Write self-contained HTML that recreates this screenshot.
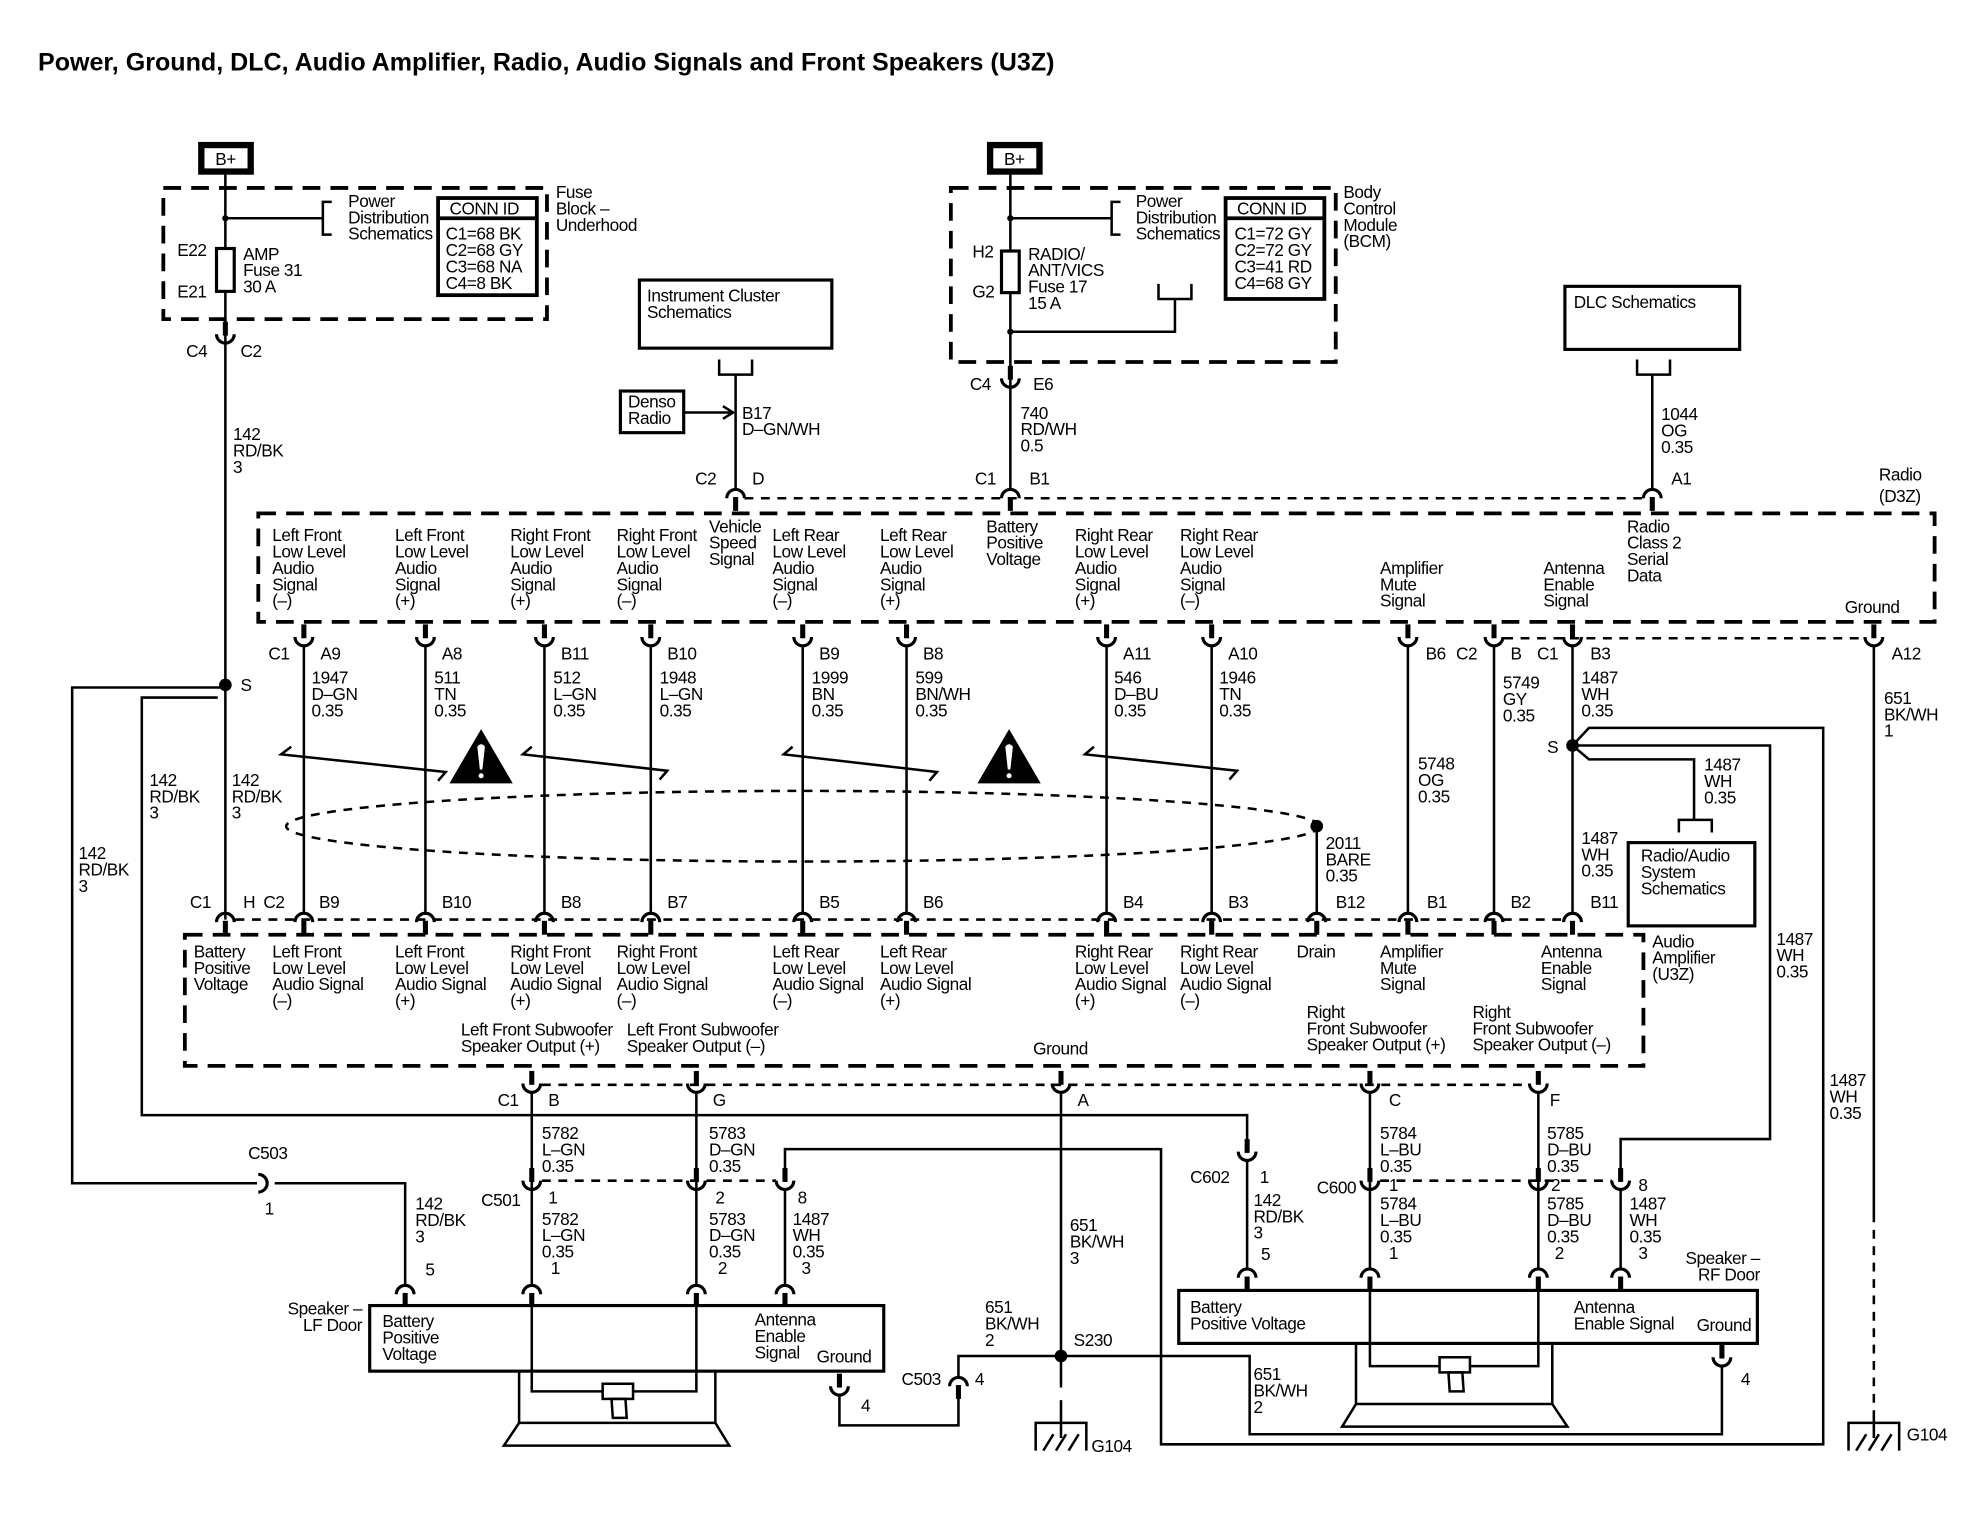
<!DOCTYPE html>
<html><head><meta charset="utf-8"><style>
html,body{margin:0;padding:0;background:#fff;}
svg{display:block;}
text{font-family:"Liberation Sans",Arial,sans-serif;font-size:13.6px;fill:#000;letter-spacing:-0.35px;}
.w{stroke:#000;stroke-width:2;fill:none;}
.d{stroke:#000;stroke-width:3;fill:none;stroke-dasharray:14,8;}
.s{stroke:#000;stroke-width:2;fill:none;stroke-dasharray:7,6;}
</style></head><body>
<svg width="1984" height="1520" viewBox="0 0 1567 1205" preserveAspectRatio="none" xmlns="http://www.w3.org/2000/svg">
<defs>
<g id="cu"><rect x="-2" y="-17" width="4" height="11" fill="#000"/><path d="M-7,-7 A7,7 0 0 0 7,-7" stroke="#000" stroke-width="2.5" fill="none"/></g>
<g id="cap"><path d="M-7,7 A7,7 0 0 1 7,7" stroke="#000" stroke-width="2.5" fill="none"/><rect x="-2" y="6" width="4" height="11" fill="#000"/></g>
</defs>
<rect width="1567" height="1205" fill="#fff"/>
<text x="30" y="56" style="font-size:19.8px;font-weight:bold;letter-spacing:0">Power, Ground, DLC, Audio Amplifier, Radio, Audio Signals and Front Speakers (U3Z)</text>

<!-- Left fuse block -->
<rect x="159" y="115" width="39" height="21" fill="none" stroke="#000" stroke-width="5"/>
<text x="170" y="131">B+</text>
<rect x="129" y="149" width="303" height="104" class="d"/>
<path class="w" d="M178,138 V729 M178,173 H255 M262,160 H255 V186 H262"/>
<circle cx="178" cy="173" r="2.5"/>
<text x="275" y="164">Power</text><text x="275" y="177">Distribution</text><text x="275" y="190">Schematics</text>
<rect x="346" y="157" width="78" height="77" fill="none" stroke="#000" stroke-width="3"/>
<line x1="346" y1="173" x2="424" y2="173" stroke="#000" stroke-width="3"/>
<text x="355" y="170">CONN ID</text>
<text x="352" y="190">C1=68 BK</text><text x="352" y="203">C2=68 GY</text><text x="352" y="216">C3=68 NA</text><text x="352" y="229">C4=8 BK</text>
<rect x="171" y="197" width="14" height="34" fill="#fff" stroke="#000" stroke-width="2.5"/>
<text x="140" y="203">E22</text><text x="140" y="236">E21</text>
<text x="192" y="206">AMP</text><text x="192" y="219">Fuse 31</text><text x="192" y="232">30 A</text>
<text x="439" y="157">Fuse</text><text x="439" y="170">Block –</text><text x="439" y="183">Underhood</text>
<use href="#cu" x="178" y="272"/>
<text x="147" y="283">C4</text><text x="190" y="283">C2</text>
<text x="184" y="349">142</text><text x="184" y="362">RD/BK</text><text x="184" y="375">3</text>

<!-- Instrument cluster / Denso -->
<rect x="505" y="222" width="152" height="54" fill="none" stroke="#000" stroke-width="2.5"/>
<text x="511" y="239">Instrument Cluster</text><text x="511" y="252">Schematics</text>
<path class="w" d="M568,285 V297 H594 V285 M581,297 V388"/>
<rect x="490" y="310" width="50" height="33" fill="none" stroke="#000" stroke-width="2.5"/>
<text x="496" y="323">Denso</text><text x="496" y="336">Radio</text>
<path class="w" d="M540,327 H578 M571,322 L579,327 L571,332"/>
<text x="586" y="332">B17</text><text x="586" y="345">D–GN/WH</text>
<text x="549" y="384">C2</text><text x="594" y="384">D</text>
<use href="#cap" x="581" y="388"/>

<!-- BCM -->
<rect x="782" y="115" width="39" height="21" fill="none" stroke="#000" stroke-width="5"/>
<text x="793" y="131">B+</text>
<rect x="751" y="149" width="304" height="138" class="d"/>
<path class="w" d="M798,138 V388 M798,173 H878 M885,160 H878 V186 H885 M798,263 H928 V237 M915,225 V237 H941 V225"/>
<circle cx="798" cy="173" r="2.5"/><circle cx="798" cy="263" r="2.5"/>
<text x="897" y="164">Power</text><text x="897" y="177">Distribution</text><text x="897" y="190">Schematics</text>
<rect x="968" y="157" width="78" height="80" fill="none" stroke="#000" stroke-width="3"/>
<line x1="968" y1="173" x2="1046" y2="173" stroke="#000" stroke-width="3"/>
<text x="977" y="170">CONN ID</text>
<text x="975" y="190">C1=72 GY</text><text x="975" y="203">C2=72 GY</text><text x="975" y="216">C3=41 RD</text><text x="975" y="229">C4=68 GY</text>
<rect x="791" y="199" width="14" height="33" fill="#fff" stroke="#000" stroke-width="2.5"/>
<text x="768" y="204">H2</text><text x="768" y="236">G2</text>
<text x="812" y="206">RADIO/</text><text x="812" y="219">ANT/VICS</text><text x="812" y="232">Fuse 17</text><text x="812" y="245">15 A</text>
<text x="1061" y="157">Body</text><text x="1061" y="170">Control</text><text x="1061" y="183">Module</text><text x="1061" y="196">(BCM)</text>
<use href="#cu" x="798" y="307"/>
<text x="766" y="309">C4</text><text x="816" y="309">E6</text>
<text x="806" y="332">740</text><text x="806" y="345">RD/WH</text><text x="806" y="358">0.5</text>
<text x="770" y="384">C1</text><text x="813" y="384">B1</text>
<use href="#cap" x="798" y="388"/>

<!-- DLC -->
<rect x="1236" y="227" width="138" height="50" fill="none" stroke="#000" stroke-width="2.5"/>
<text x="1243" y="244">DLC Schematics</text>
<path class="w" d="M1293,285 V297 H1319 V285 M1305,297 V388"/>
<text x="1312" y="333">1044</text><text x="1312" y="346">OG</text><text x="1312" y="359">0.35</text>
<text x="1320" y="384">A1</text>
<use href="#cap" x="1305" y="388"/>
<line x1="588" y1="395" x2="1298" y2="395" class="s"/>

<!-- Radio box -->
<rect x="204" y="407" width="1324" height="86" class="d"/>
<text x="1484" y="381">Radio</text><text x="1484" y="398">(D3Z)</text>
<g>
<text x="215" y="429">Left Front</text><text x="215" y="442">Low Level</text><text x="215" y="455">Audio</text><text x="215" y="468">Signal</text><text x="215" y="481">(–)</text>
<text x="312" y="429">Left Front</text><text x="312" y="442">Low Level</text><text x="312" y="455">Audio</text><text x="312" y="468">Signal</text><text x="312" y="481">(+)</text>
<text x="403" y="429">Right Front</text><text x="403" y="442">Low Level</text><text x="403" y="455">Audio</text><text x="403" y="468">Signal</text><text x="403" y="481">(+)</text>
<text x="487" y="429">Right Front</text><text x="487" y="442">Low Level</text><text x="487" y="455">Audio</text><text x="487" y="468">Signal</text><text x="487" y="481">(–)</text>
<text x="560" y="422">Vehicle</text><text x="560" y="435">Speed</text><text x="560" y="448">Signal</text>
<text x="610" y="429">Left Rear</text><text x="610" y="442">Low Level</text><text x="610" y="455">Audio</text><text x="610" y="468">Signal</text><text x="610" y="481">(–)</text>
<text x="695" y="429">Left Rear</text><text x="695" y="442">Low Level</text><text x="695" y="455">Audio</text><text x="695" y="468">Signal</text><text x="695" y="481">(+)</text>
<text x="779" y="422">Battery</text><text x="779" y="435">Positive</text><text x="779" y="448">Voltage</text>
<text x="849" y="429">Right Rear</text><text x="849" y="442">Low Level</text><text x="849" y="455">Audio</text><text x="849" y="468">Signal</text><text x="849" y="481">(+)</text>
<text x="932" y="429">Right Rear</text><text x="932" y="442">Low Level</text><text x="932" y="455">Audio</text><text x="932" y="468">Signal</text><text x="932" y="481">(–)</text>
<text x="1090" y="455">Amplifier</text><text x="1090" y="468">Mute</text><text x="1090" y="481">Signal</text>
<text x="1219" y="455">Antenna</text><text x="1219" y="468">Enable</text><text x="1219" y="481">Signal</text>
<text x="1285" y="422">Radio</text><text x="1285" y="435">Class 2</text><text x="1285" y="448">Serial</text><text x="1285" y="461">Data</text>
<text x="1457" y="486">Ground</text>
</g>

<!-- radio bottom connectors & wires -->
<g>
<use href="#cu" x="240" y="512"/><use href="#cu" x="336" y="512"/><use href="#cu" x="430" y="512"/><use href="#cu" x="514" y="512"/>
<use href="#cu" x="634" y="512"/><use href="#cu" x="716" y="512"/><use href="#cu" x="874" y="512"/><use href="#cu" x="957" y="512"/>
<use href="#cu" x="1112" y="512"/><use href="#cu" x="1180" y="512"/><use href="#cu" x="1242" y="512"/><use href="#cu" x="1480" y="512"/>
</g>
<line x1="1188" y1="506" x2="1473" y2="506" class="s"/>
<path class="w" d="M240,512 V724 M336,512 V724 M430,512 V724 M514,512 V724 M634,512 V724 M716,512 V724 M874,512 V724 M957,512 V724 M1112,512 V724 M1180,512 V724 M1242,512 V724 M1040,655 V724 M1480,512 V962"/>
<path class="s" d="M1480,962 V1118"/>
<g>
<text x="212" y="523">C1</text><text x="253" y="523">A9</text><text x="349" y="523">A8</text><text x="443" y="523">B11</text><text x="527" y="523">B10</text>
<text x="647" y="523">B9</text><text x="729" y="523">B8</text><text x="887" y="523">A11</text><text x="970" y="523">A10</text>
<text x="1126" y="523">B6</text><text x="1150" y="523">C2</text><text x="1193" y="523">B</text><text x="1214" y="523">C1</text><text x="1256" y="523">B3</text><text x="1494" y="523">A12</text>
<text x="246" y="542">1947</text><text x="246" y="555">D–GN</text><text x="246" y="568">0.35</text>
<text x="343" y="542">511</text><text x="343" y="555">TN</text><text x="343" y="568">0.35</text>
<text x="437" y="542">512</text><text x="437" y="555">L–GN</text><text x="437" y="568">0.35</text>
<text x="521" y="542">1948</text><text x="521" y="555">L–GN</text><text x="521" y="568">0.35</text>
<text x="641" y="542">1999</text><text x="641" y="555">BN</text><text x="641" y="568">0.35</text>
<text x="723" y="542">599</text><text x="723" y="555">BN/WH</text><text x="723" y="568">0.35</text>
<text x="880" y="542">546</text><text x="880" y="555">D–BU</text><text x="880" y="568">0.35</text>
<text x="963" y="542">1946</text><text x="963" y="555">TN</text><text x="963" y="568">0.35</text>
<text x="1120" y="610">5748</text><text x="1120" y="623">OG</text><text x="1120" y="636">0.35</text>
<text x="1187" y="546">5749</text><text x="1187" y="559">GY</text><text x="1187" y="572">0.35</text>
<text x="1249" y="542">1487</text><text x="1249" y="555">WH</text><text x="1249" y="568">0.35</text>
<text x="1488" y="558">651</text><text x="1488" y="571">BK/WH</text><text x="1488" y="584">1</text>
<text x="1047" y="673">2011</text><text x="1047" y="686">BARE</text><text x="1047" y="699">0.35</text>
<text x="1249" y="669">1487</text><text x="1249" y="682">WH</text><text x="1249" y="695">0.35</text>
</g>

<!-- shield & warnings -->
<ellipse cx="634" cy="655" rx="408" ry="28" class="s"/>
<circle cx="1040" cy="655" r="5"/>
<path class="w" d="M230,592 L222,598 L352,612 L346,619 M420,592 L413,598 L527,611 L521,618 M626,592 L619,598 L740,612 L734,619 M864,592 L857,598 L977,611 L971,618"/>
<polygon points="380,578 355,621 405,621" fill="#000"/>
<path d="M377,592 Q380,588 383,592 L381,610 L379,610 Z" fill="#fff"/><circle cx="380" cy="615" r="2" fill="#fff"/>
<polygon points="797,578 772,621 822,621" fill="#000"/>
<path d="M794,592 Q797,588 800,592 L798,610 L796,610 Z" fill="#fff"/><circle cx="797" cy="615" r="2" fill="#fff"/>

<!-- splices left -->
<circle cx="178" cy="543" r="5"/>
<text x="190" y="548">S</text>
<path class="w" d="M178,545 H57 V938 H203 M172,553 H112 V884 H985 V912"/>
<path d="M204,931 A7,7 0 0 1 204,945" stroke="#000" stroke-width="2.5" fill="none"/>
<path class="w" d="M217,938 H320 V1019"/>
<text x="118" y="623">142</text><text x="118" y="636">RD/BK</text><text x="118" y="649">3</text>
<text x="183" y="623">142</text><text x="183" y="636">RD/BK</text><text x="183" y="649">3</text>
<text x="62" y="681">142</text><text x="62" y="694">RD/BK</text><text x="62" y="707">3</text>
<text x="196" y="919">C503</text><text x="209" y="963">1</text>
<text x="328" y="959">142</text><text x="328" y="972">RD/BK</text><text x="328" y="985">3</text><text x="336" y="1011">5</text>

<!-- right splice -->
<circle cx="1242" cy="591" r="5"/>
<text x="1222" y="597">S</text>
<path class="w" d="M1242,591 L1255,577 H1440 V1145 H917 V911 H620 V928 M1242,591 H1398 V903 H1280 V928 M1242,591 L1255,602 H1338 V650 M1326,660 V650 H1352 V660"/>
<text x="1346" y="611">1487</text><text x="1346" y="624">WH</text><text x="1346" y="637">0.35</text>
<rect x="1286" y="668" width="100" height="66" fill="none" stroke="#000" stroke-width="2.5"/>
<text x="1296" y="683">Radio/Audio</text><text x="1296" y="696">System</text><text x="1296" y="709">Schematics</text>
<text x="1403" y="749">1487</text><text x="1403" y="762">WH</text><text x="1403" y="775">0.35</text>
<text x="1445" y="861">1487</text><text x="1445" y="874">WH</text><text x="1445" y="887">0.35</text>

<!-- Amplifier -->
<line x1="186" y1="729" x2="1235" y2="729" class="s"/>
<g>
<use href="#cap" x="178" y="724"/><use href="#cap" x="240" y="724"/><use href="#cap" x="336" y="724"/><use href="#cap" x="430" y="724"/><use href="#cap" x="514" y="724"/>
<use href="#cap" x="634" y="724"/><use href="#cap" x="716" y="724"/><use href="#cap" x="874" y="724"/><use href="#cap" x="957" y="724"/><use href="#cap" x="1040" y="724"/>
<use href="#cap" x="1112" y="724"/><use href="#cap" x="1180" y="724"/><use href="#cap" x="1242" y="724"/>
</g>
<g>
<text x="150" y="720">C1</text><text x="192" y="720">H</text><text x="208" y="720">C2</text><text x="252" y="720">B9</text><text x="349" y="720">B10</text>
<text x="443" y="720">B8</text><text x="527" y="720">B7</text><text x="647" y="720">B5</text><text x="729" y="720">B6</text><text x="887" y="720">B4</text>
<text x="970" y="720">B3</text><text x="1055" y="720">B12</text><text x="1127" y="720">B1</text><text x="1193" y="720">B2</text><text x="1256" y="720">B11</text>
</g>
<rect x="146" y="741" width="1152" height="104" class="d"/>
<text x="1305" y="751">Audio</text><text x="1305" y="764">Amplifier</text><text x="1305" y="777">(U3Z)</text>
<g>
<text x="153" y="759">Battery</text><text x="153" y="772">Positive</text><text x="153" y="785">Voltage</text>
<text x="215" y="759">Left Front</text><text x="215" y="772">Low Level</text><text x="215" y="785">Audio Signal</text><text x="215" y="798">(–)</text>
<text x="312" y="759">Left Front</text><text x="312" y="772">Low Level</text><text x="312" y="785">Audio Signal</text><text x="312" y="798">(+)</text>
<text x="403" y="759">Right Front</text><text x="403" y="772">Low Level</text><text x="403" y="785">Audio Signal</text><text x="403" y="798">(+)</text>
<text x="487" y="759">Right Front</text><text x="487" y="772">Low Level</text><text x="487" y="785">Audio Signal</text><text x="487" y="798">(–)</text>
<text x="610" y="759">Left Rear</text><text x="610" y="772">Low Level</text><text x="610" y="785">Audio Signal</text><text x="610" y="798">(–)</text>
<text x="695" y="759">Left Rear</text><text x="695" y="772">Low Level</text><text x="695" y="785">Audio Signal</text><text x="695" y="798">(+)</text>
<text x="849" y="759">Right Rear</text><text x="849" y="772">Low Level</text><text x="849" y="785">Audio Signal</text><text x="849" y="798">(+)</text>
<text x="932" y="759">Right Rear</text><text x="932" y="772">Low Level</text><text x="932" y="785">Audio Signal</text><text x="932" y="798">(–)</text>
<text x="1024" y="759">Drain</text>
<text x="1090" y="759">Amplifier</text><text x="1090" y="772">Mute</text><text x="1090" y="785">Signal</text>
<text x="1217" y="759">Antenna</text><text x="1217" y="772">Enable</text><text x="1217" y="785">Signal</text>
<text x="364" y="821">Left Front Subwoofer</text><text x="364" y="834">Speaker Output (+)</text>
<text x="495" y="821">Left Front Subwoofer</text><text x="495" y="834">Speaker Output (–)</text>
<text x="816" y="836">Ground</text>
<text x="1032" y="807">Right</text><text x="1032" y="820">Front Subwoofer</text><text x="1032" y="833">Speaker Output (+)</text>
<text x="1163" y="807">Right</text><text x="1163" y="820">Front Subwoofer</text><text x="1163" y="833">Speaker Output (–)</text>
</g>

<!-- amp bottom connectors -->
<line x1="428" y1="860" x2="1208" y2="860" class="s"/>
<use href="#cu" x="420" y="866"/><use href="#cu" x="550" y="866"/><use href="#cu" x="838" y="866"/><use href="#cu" x="1082" y="866"/><use href="#cu" x="1215" y="866"/>
<path class="w" d="M420,866 V943 M550,866 V943 M838,866 V1100 M1082,866 V943 M1215,866 V943"/>
<text x="393" y="877">C1</text><text x="433" y="877">B</text><text x="563" y="877">G</text><text x="851" y="877">A</text><text x="1097" y="877">C</text><text x="1224" y="877">F</text>
<text x="428" y="903">5782</text><text x="428" y="916">L–GN</text><text x="428" y="929">0.35</text>
<text x="560" y="903">5783</text><text x="560" y="916">D–GN</text><text x="560" y="929">0.35</text>
<text x="1090" y="903">5784</text><text x="1090" y="916">L–BU</text><text x="1090" y="929">0.35</text>
<text x="1222" y="903">5785</text><text x="1222" y="916">D–BU</text><text x="1222" y="929">0.35</text>

<!-- C501 -->
<line x1="428" y1="936" x2="613" y2="936" class="s"/>
<use href="#cu" x="420" y="943"/><use href="#cu" x="550" y="943"/><use href="#cu" x="620" y="943"/>
<path class="w" d="M420,943 V1019 M550,943 V1019 M620,943 V1019"/>
<text x="380" y="956">C501</text><text x="433" y="954">1</text><text x="565" y="954">2</text><text x="630" y="954">8</text>
<text x="428" y="971">5782</text><text x="428" y="984">L–GN</text><text x="428" y="997">0.35</text><text x="435" y="1010">1</text>
<text x="560" y="971">5783</text><text x="560" y="984">D–GN</text><text x="560" y="997">0.35</text><text x="567" y="1010">2</text>
<text x="626" y="971">1487</text><text x="626" y="984">WH</text><text x="626" y="997">0.35</text><text x="633" y="1010">3</text>
<use href="#cap" x="320" y="1019"/><use href="#cap" x="420" y="1019"/><use href="#cap" x="550" y="1019"/><use href="#cap" x="620" y="1019"/>

<!-- LF speaker -->
<rect x="292" y="1035" width="406" height="52" fill="#fff" stroke="#000" stroke-width="2.5"/>
<text x="286" y="1042" text-anchor="end">Speaker –</text><text x="286" y="1055" text-anchor="end">LF Door</text>
<text x="302" y="1052">Battery</text><text x="302" y="1065">Positive</text><text x="302" y="1078">Voltage</text>
<text x="596" y="1051">Antenna</text><text x="596" y="1064">Enable</text><text x="596" y="1077">Signal</text><text x="645" y="1080">Ground</text>
<path class="w" d="M420,1035 V1103 H550 V1035 M410,1087 V1128 M565,1087 V1128 M410,1128 H565 L576,1146 H398 Z"/>
<rect x="476" y="1097" width="24" height="12" fill="#fff" stroke="#000" stroke-width="2"/>
<path class="w" d="M483,1109 H494 L495,1124 H484 Z"/>
<use href="#cu" x="663" y="1106"/>
<text x="680" y="1119">4</text>
<path class="w" d="M663,1106 V1130 H757 V1100 M757,1092 V1075 H987 V1137 H1360 V1083"/>
<use href="#cap" x="757" y="1092"/>
<text x="712" y="1098">C503</text><text x="770" y="1098">4</text>
<circle cx="838" cy="1075" r="5"/>
<text x="848" y="1067">S230</text>
<text x="778" y="1041">651</text><text x="778" y="1054">BK/WH</text><text x="778" y="1067">2</text>
<text x="845" y="976">651</text><text x="845" y="989">BK/WH</text><text x="845" y="1002">3</text>
<text x="990" y="1094">651</text><text x="990" y="1107">BK/WH</text><text x="990" y="1120">2</text>
<path class="w" d="M838,1110 V1140 M818,1150 V1128 H858 V1150 M824,1150 L832,1137 M834,1150 L842,1137 M844,1150 L852,1137"/>
<text x="862" y="1151">G104</text>
<path class="w" d="M1480,1118 V1140 M1460,1150 V1128 H1500 V1150 M1466,1150 L1474,1137 M1476,1150 L1484,1137 M1486,1150 L1494,1137"/>
<text x="1506" y="1142">G104</text>

<!-- RF speaker side -->
<use href="#cu" x="985" y="920"/>
<path class="w" d="M985,920 V1006"/>
<text x="940" y="938">C602</text><text x="995" y="938">1</text>
<text x="990" y="956">142</text><text x="990" y="969">RD/BK</text><text x="990" y="982">3</text><text x="996" y="999">5</text>
<line x1="1090" y1="936" x2="1273" y2="936" class="s"/>
<use href="#cu" x="1082" y="943"/><use href="#cu" x="1215" y="943"/><use href="#cu" x="1280" y="943"/>
<path class="w" d="M1082,943 V1006 M1215,943 V1006 M1280,943 V1006"/>
<text x="1040" y="946">C600</text><text x="1097" y="944">1</text><text x="1225" y="944">2</text><text x="1294" y="944">8</text>
<text x="1090" y="959">5784</text><text x="1090" y="972">L–BU</text><text x="1090" y="985">0.35</text><text x="1097" y="998">1</text>
<text x="1222" y="959">5785</text><text x="1222" y="972">D–BU</text><text x="1222" y="985">0.35</text><text x="1228" y="998">2</text>
<text x="1287" y="959">1487</text><text x="1287" y="972">WH</text><text x="1287" y="985">0.35</text><text x="1294" y="998">3</text>
<use href="#cap" x="985" y="1006"/><use href="#cap" x="1082" y="1006"/><use href="#cap" x="1215" y="1006"/><use href="#cap" x="1280" y="1006"/>
<rect x="931" y="1023" width="457" height="42" fill="#fff" stroke="#000" stroke-width="2.5"/>
<text x="1390" y="1002" text-anchor="end">Speaker –</text><text x="1390" y="1015" text-anchor="end">RF Door</text>
<text x="940" y="1041">Battery</text><text x="940" y="1054">Positive Voltage</text>
<text x="1243" y="1041">Antenna</text><text x="1243" y="1054">Enable Signal</text><text x="1340" y="1055">Ground</text>
<path class="w" d="M1082,1023 V1083 H1215 V1023 M1071,1065 V1113 M1226,1065 V1113 M1071,1113 H1226 L1238,1131 H1060 Z"/>
<rect x="1137" y="1076" width="24" height="12" fill="#fff" stroke="#000" stroke-width="2"/>
<path class="w" d="M1144,1088 H1155 L1156,1103 H1145 Z"/>
<use href="#cu" x="1360" y="1083"/>
<text x="1375" y="1098">4</text>
</svg>
</body></html>
